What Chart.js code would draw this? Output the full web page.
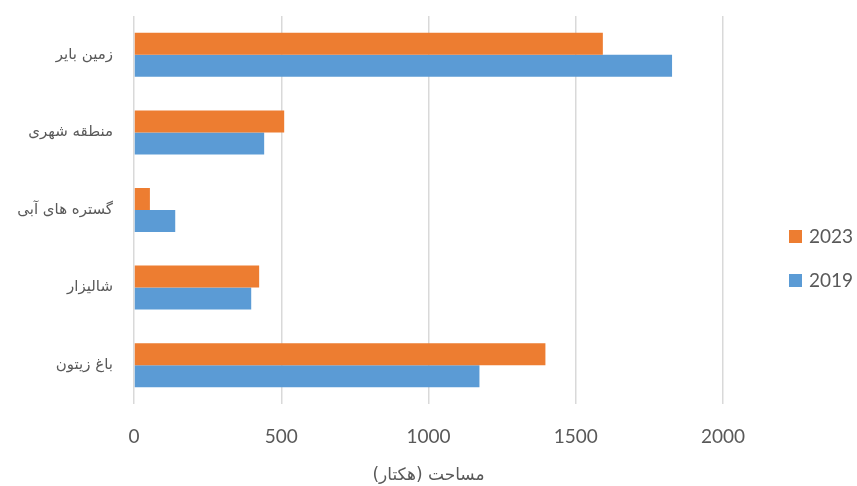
<!DOCTYPE html>
<html>
<head>
<meta charset="utf-8">
<script src="https://cdn.jsdelivr.net/npm/chart.js@4.4.0/dist/chart.umd.min.js"></script>
<style>
  html, body { margin: 0; padding: 0; background: #fff; }
  #wrap { width: 857px; height: 486px; }
</style>
</head>
<body>
<div id="wrap"><canvas id="landChart" width="857" height="486"></canvas></div>
<script>
// land use area by class, hectares
var categories = ['زمین بایر', 'منطقه شهری', 'گستره های آبی', 'شالیزار', 'باغ زیتون'];
var years = ['2023', '2019'];
var area2023 = [1592, 510, 54, 425, 1397];
var area2019 = [1827, 442, 140, 398, 1173];
var xTicks = [0, 500, 1000, 1500, 2000];

var textColor = '#595959';
var numFont = 'Lato, "DejaVu Sans", sans-serif';
var faFont = '"DejaVu Sans", sans-serif';

// legend drawn to the right of the plot
var sideLegend = {
    id: 'sideLegend',
    afterDraw: function(chart) {
        var ctx = chart.ctx;
        var area = chart.chartArea;
        var sets = chart.data.datasets;
        var step = 44;
        var y0 = (area.top + area.bottom) / 2 + 27;
        ctx.save();
        ctx.font = '19px ' + numFont;
        ctx.textBaseline = 'middle';
        ctx.textAlign = 'left';
        sets.forEach(function(ds, i) {
            var y = y0 + i * step;
            ctx.fillStyle = ds.backgroundColor;
            ctx.fillRect(789, y - 7, 13, 13);
            ctx.fillStyle = textColor;
            ctx.fillText(ds.label, 809, y);
        });
        ctx.restore();
    }
};

var ctx = document.getElementById('landChart').getContext('2d');
var myChart = new Chart(ctx, {
    type: 'bar',
    data: {
        labels: categories,
        datasets: [{
            label: years[0],
            data: area2023,
            backgroundColor: '#ED7D31',
            borderWidth: 0
        }, {
            label: years[1],
            data: area2019,
            backgroundColor: '#5B9BD5',
            borderWidth: 0
        }]
    },
    options: {
        indexAxis: 'y',
        responsive: false,
        animation: false,
        categoryPercentage: 0.567,
        barPercentage: 1,
        layout: {
            padding: { top: 16, right: 134, left: 0, bottom: 0 }
        },
        plugins: {
            legend: { display: false },
            tooltip: { enabled: false }
        },
        scales: {
            x: {
                min: 0,
                max: 2000,
                afterBuildTicks: function(scale) {
                    scale.ticks = xTicks.map(function(v) { return { value: v }; });
                },
                afterFit: function(scale) { scale.height = 82; },
                border: { display: false },
                grid: {
                    color: '#D9D9D9',
                    lineWidth: 1.5,
                    drawTicks: false
                },
                ticks: {
                    padding: 21,
                    color: textColor,
                    font: { family: numFont, size: 19 },
                    callback: function(v) { return String(v); }
                },
                title: {
                    display: true,
                    text: 'مساحت (هکتار)',
                    color: textColor,
                    font: { family: faFont, size: 17 },
                    padding: { top: 12, bottom: 0 }
                }
            },
            y: {
                afterFit: function(scale) {
                    scale.width = 134;
                    // labels sit inside their category bands, no overflow room needed
                    scale.paddingTop = 0;
                    scale.paddingBottom = 0;
                },
                border: { display: false },
                grid: { display: false, drawTicks: false },
                ticks: {
                    padding: 21,
                    color: textColor,
                    font: { family: faFont, size: 15 }
                }
            }
        }
    },
    plugins: [sideLegend]
});
</script>
</body>
</html>
